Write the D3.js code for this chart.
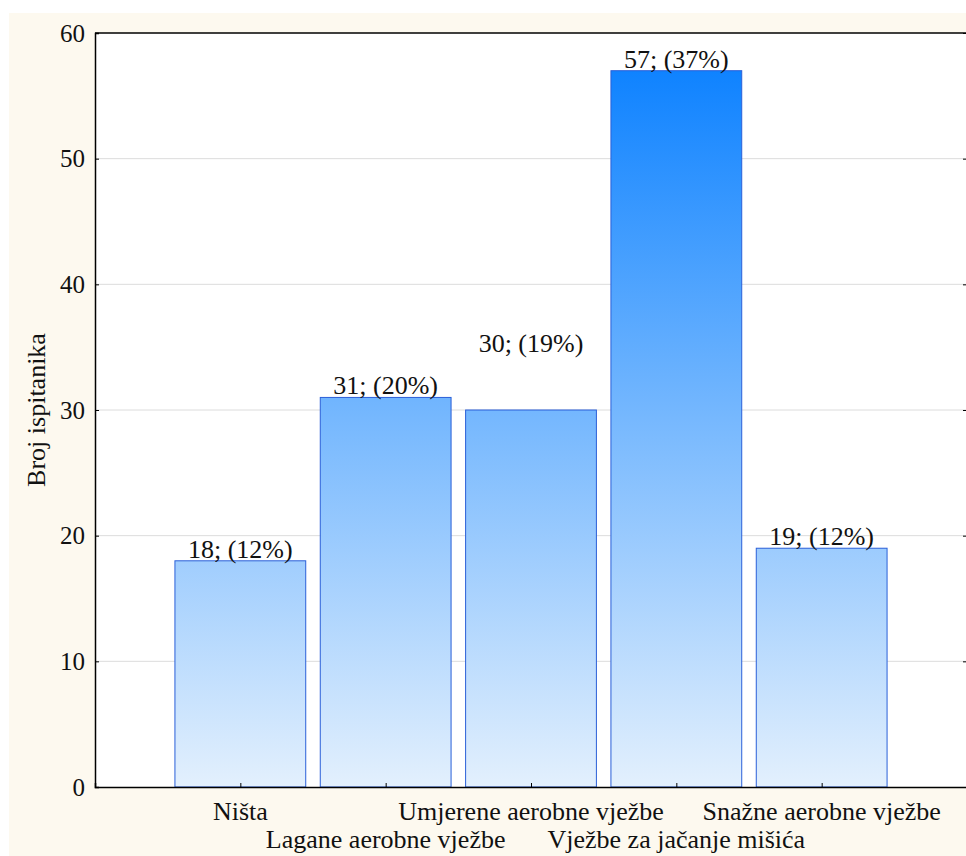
<!DOCTYPE html>
<html>
<head>
<meta charset="utf-8">
<script src="https://cdn.jsdelivr.net/npm/d3@7"></script>
<style>
  body { margin: 0; background: #fff; }
  svg text { fill: #111; }
</style>
</head>
<body>
<svg id="chart" width="966" height="856"></svg>
<script>
/* DATA */
const categories = ["Ništa", "Lagane aerobne vježbe", "Umjerene aerobne vježbe", "Vježbe za jačanje mišića", "Snažne aerobne vježbe"];
const counts = [18, 31, 30, 57, 19];
const percents = [12, 20, 19, 37, 12];
// where the value label sits (in y units); the 30 label was lifted in the original
const labelAt = [18, 31, 34.4, 57, 19];
const yTicks = [0, 10, 20, 30, 40, 50, 60];
const yTitle = "Broj ispitanika";

const svg = d3.select("#chart");
const plotL = 95, plotR = 967, plotT = 33, plotB = 787;
const serif = '"Liberation Serif", "Times New Roman", serif';

/* BACKGROUND */
svg.append("rect").attr("x", 9).attr("y", 13).attr("width", 957).attr("height", 843).attr("fill", "#fdf9ef");
svg.append("rect").attr("x", plotL).attr("y", plotT).attr("width", plotR - plotL).attr("height", plotB - plotT).attr("fill", "#fff");

/* SCALES */
const x = d3.scalePoint().domain(categories).range([plotL, plotR]).padding(1);
const y = d3.scaleLinear().domain([0, 60]).range([plotB, plotT]);
const barW = x.step() * 0.9;

/* GRADIENT (shared over whole plot height) */
const grad = svg.append("defs").append("linearGradient")
  .attr("id", "barGrad")
  .attr("gradientUnits", "userSpaceOnUse")
  .attr("x1", 0).attr("x2", 0)
  .attr("y1", y(0)).attr("y2", y(60));
grad.append("stop").attr("offset", "0%").attr("stop-color", "#e3f0fd");
grad.append("stop").attr("offset", "100%").attr("stop-color", "#047dff");

/* GRID */
svg.selectAll(".grid")
  .data(yTicks.filter(d => d > 0 && d < 60))
  .enter().append("line")
  .attr("x1", plotL).attr("x2", plotR)
  .attr("y1", d => y(d)).attr("y2", d => y(d))
  .attr("stroke", "#dcdcdc").attr("stroke-width", 1);

/* BARS */
svg.selectAll(".bar")
  .data(counts)
  .enter().append("rect")
  .attr("x", (d, i) => x(categories[i]) - barW / 2)
  .attr("y", d => y(d))
  .attr("width", barW)
  .attr("height", d => y(0) - y(d))
  .attr("fill", "url(#barGrad)")
  .attr("stroke", "#2a5fd8")
  .attr("stroke-width", 1);

/* VALUE LABELS */
svg.selectAll(".val")
  .data(counts)
  .enter().append("text")
  .attr("x", (d, i) => x(categories[i]))
  .attr("y", (d, i) => y(labelAt[i]) - 3)
  .attr("text-anchor", "middle")
  .style("font-family", serif)
  .style("font-size", "26px")
  .text((d, i) => `${d}; (${percents[i]}%)`);

/* AXES */
const yAxis = svg.append("g").attr("transform", `translate(${plotL},0)`)
  .call(d3.axisRight(y).tickValues(yTicks).tickSize(4).tickFormat(""));
yAxis.select(".domain").attr("stroke", "#000").attr("stroke-width", 1.5);

svg.append("g").attr("transform", `translate(${plotR},0)`)
  .call(d3.axisLeft(y).tickValues(yTicks).tickSize(4).tickFormat(""))
  .select(".domain").attr("stroke", "#000");

svg.selectAll(".ylab")
  .data(yTicks)
  .enter().append("text")
  .attr("x", plotL - 10)
  .attr("y", d => y(d))
  .attr("dy", "0.35em")
  .attr("text-anchor", "end")
  .style("font-family", serif)
  .style("font-size", "25px")
  .text(d => d);

const xAxis = svg.append("g").attr("transform", `translate(0,${plotB})`)
  .call(d3.axisTop(x).tickSize(4).tickFormat(""));
xAxis.select(".domain").attr("stroke", "#000").attr("stroke-width", 1.5);

svg.append("line")
  .attr("x1", plotL).attr("x2", plotR)
  .attr("y1", plotT).attr("y2", plotT)
  .attr("stroke", "#000").attr("stroke-width", 1.5);

/* X LABELS (staggered) */
svg.selectAll(".xlab")
  .data(categories)
  .enter().append("text")
  .attr("x", d => x(d))
  .attr("y", (d, i) => i % 2 === 0 ? plotB + 33 : plotB + 61)
  .attr("text-anchor", "middle")
  .style("font-family", serif)
  .style("font-size", "26px")
  .text(d => d);

/* Y TITLE */
svg.append("text")
  .attr("transform", `translate(45,${(plotT + plotB) / 2}) rotate(-90)`)
  .attr("text-anchor", "middle")
  .style("font-family", serif)
  .style("font-size", "26px")
  .text(yTitle);
</script>
</body>
</html>
